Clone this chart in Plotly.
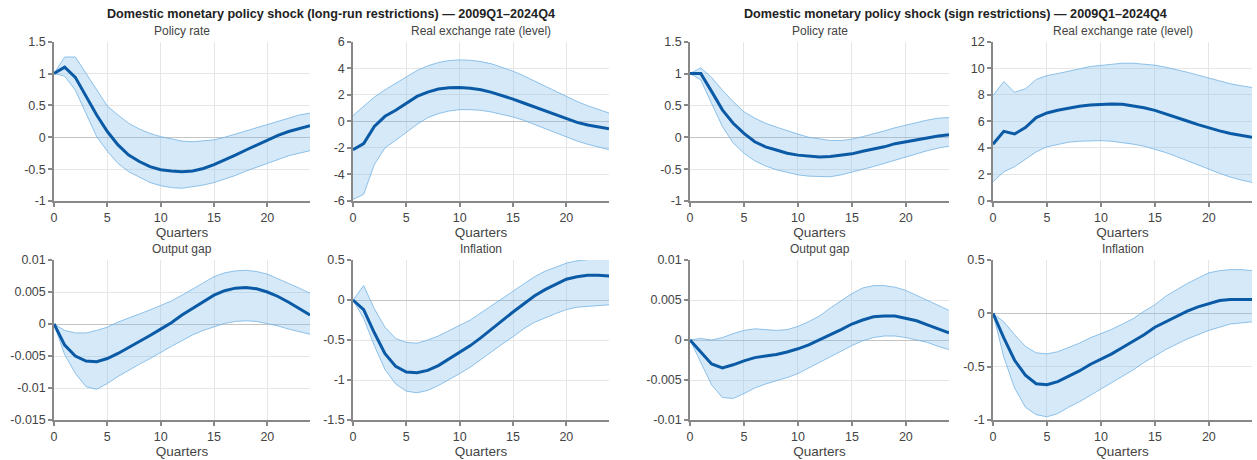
import plotly.graph_objects as go

quarters = list(range(25))

# ---- Long-run restrictions ----
lr_policy_mean = [1.0, 1.1, 0.94, 0.64, 0.35, 0.09, -0.12, -0.28, -0.38, -0.46, -0.51, -0.53, -0.54, -0.53, -0.49, -0.43, -0.36, -0.28, -0.2, -0.12, -0.04, 0.03, 0.09, 0.14, 0.18]
lr_policy_hi = [1.0, 1.26, 1.26, 1.0, 0.74, 0.49, 0.35, 0.22, 0.13, 0.06, 0.01, -0.03, -0.06, -0.07, -0.06, -0.04, 0.0, 0.05, 0.1, 0.16, 0.21, 0.26, 0.31, 0.35, 0.38]
lr_policy_lo = [1.0, 0.96, 0.74, 0.38, 0.01, -0.22, -0.41, -0.54, -0.63, -0.71, -0.76, -0.79, -0.8, -0.78, -0.75, -0.71, -0.66, -0.6, -0.53, -0.47, -0.41, -0.35, -0.29, -0.25, -0.21]

lr_rer_mean = [-2.13, -1.68, -0.38, 0.38, 0.83, 1.38, 1.88, 2.2, 2.43, 2.53, 2.55, 2.5, 2.38, 2.18, 1.95, 1.68, 1.38, 1.08, 0.78, 0.48, 0.2, -0.08, -0.28, -0.43, -0.55]
lr_rer_hi = [0.43, 1.13, 1.83, 2.38, 2.88, 3.38, 3.83, 4.18, 4.43, 4.58, 4.63, 4.6, 4.5, 4.33, 4.08, 3.78, 3.43, 3.05, 2.65, 2.25, 1.85, 1.5, 1.18, 0.88, 0.63]
lr_rer_lo = [-5.88, -5.5, -3.25, -2.0, -1.43, -0.8, -0.23, 0.28, 0.58, 0.78, 0.88, 0.88, 0.83, 0.7, 0.53, 0.33, 0.08, -0.23, -0.55, -0.88, -1.18, -1.48, -1.73, -1.95, -2.13]

lr_gap_mean = [0.0, -0.0033, -0.005, -0.0058, -0.0059, -0.0054, -0.0046, -0.0037, -0.0028, -0.0018, -0.0008, 0.0002, 0.0014, 0.0024, 0.0035, 0.0045, 0.0052, 0.0056, 0.0057, 0.0055, 0.005, 0.0043, 0.0034, 0.0024, 0.0014]
lr_gap_hi = [0.0, -0.001, -0.0014, -0.0014, -0.001, -0.0005, 0.0003, 0.0009, 0.0015, 0.0022, 0.0029, 0.0036, 0.0045, 0.0055, 0.0065, 0.0074, 0.008, 0.0083, 0.0084, 0.0082, 0.0078, 0.0071, 0.0064, 0.0056, 0.0048]
lr_gap_lo = [0.0, -0.0048, -0.0077, -0.0098, -0.0102, -0.0093, -0.0082, -0.0072, -0.0063, -0.0054, -0.0044, -0.0035, -0.0026, -0.0017, -0.001, -0.0004, 0.0001, 0.0004, 0.0005, 0.0004, 0.0001, -0.0003, -0.0008, -0.0012, -0.0016]

lr_inf_mean = [0.0, -0.12, -0.41, -0.67, -0.83, -0.9, -0.91, -0.88, -0.82, -0.74, -0.66, -0.57, -0.47, -0.36, -0.26, -0.15, -0.05, 0.05, 0.13, 0.2, 0.26, 0.29, 0.31, 0.31, 0.3]
lr_inf_hi = [0.0, 0.18, -0.11, -0.34, -0.48, -0.53, -0.54, -0.5, -0.45, -0.38, -0.32, -0.25, -0.16, -0.07, 0.02, 0.12, 0.2, 0.29, 0.36, 0.41, 0.46, 0.49, 0.51, 0.52, 0.52]
lr_inf_lo = [0.0, -0.23, -0.57, -0.87, -1.05, -1.14, -1.16, -1.13, -1.07, -1.0, -0.92, -0.84, -0.74, -0.65, -0.55, -0.46, -0.36, -0.28, -0.22, -0.17, -0.12, -0.09, -0.08, -0.07, -0.06]

# ---- Sign restrictions ----
sr_policy_mean = [1.0, 1.0, 0.72, 0.43, 0.22, 0.06, -0.07, -0.15, -0.2, -0.25, -0.28, -0.3, -0.31, -0.3, -0.28, -0.26, -0.22, -0.19, -0.15, -0.1, -0.07, -0.03, 0.0, 0.02, 0.04]
sr_policy_hi = [1.0, 1.09, 0.94, 0.74, 0.56, 0.4, 0.3, 0.22, 0.16, 0.1, 0.05, 0.0, -0.03, -0.05, -0.05, -0.03, 0.01, 0.05, 0.1, 0.15, 0.19, 0.24, 0.27, 0.3, 0.31]
sr_policy_lo = [1.0, 0.9, 0.53, 0.17, -0.09, -0.25, -0.37, -0.45, -0.51, -0.55, -0.59, -0.61, -0.62, -0.62, -0.59, -0.55, -0.51, -0.46, -0.41, -0.36, -0.3, -0.25, -0.21, -0.17, -0.14]

sr_rer_mean = [4.28, 5.25, 5.05, 5.53, 6.28, 6.63, 6.83, 7.0, 7.13, 7.23, 7.28, 7.3, 7.28, 7.18, 7.03, 6.83, 6.58, 6.3, 6.03, 5.75, 5.5, 5.28, 5.08, 4.93, 4.8]
sr_rer_hi = [7.95, 9.0, 8.2, 8.45, 9.15, 9.45, 9.6, 9.75, 9.95, 10.13, 10.23, 10.33, 10.38, 10.38, 10.33, 10.23, 10.08, 9.9, 9.7, 9.48, 9.25, 9.03, 8.83, 8.68, 8.55]
sr_rer_lo = [1.45, 2.2, 2.58, 3.13, 3.7, 4.08, 4.28, 4.43, 4.5, 4.55, 4.55, 4.5, 4.4, 4.28, 4.13, 3.9, 3.65, 3.35, 3.05, 2.73, 2.4, 2.08, 1.8, 1.58, 1.4]

sr_gap_mean = [0.0, -0.0015, -0.003, -0.0035, -0.0031, -0.0026, -0.0022, -0.002, -0.0018, -0.0015, -0.0011, -0.0006, 0.0, 0.0006, 0.0013, 0.002, 0.0025, 0.0029, 0.003, 0.003, 0.0027, 0.0024, 0.0019, 0.0014, 0.0009]
sr_gap_hi = [0.0, 0.0002, 0.0, 0.0003, 0.0008, 0.0012, 0.0014, 0.0013, 0.0012, 0.0013, 0.0017, 0.0023, 0.003, 0.004, 0.0049, 0.0058, 0.0065, 0.0068, 0.0068, 0.0066, 0.0062, 0.0056, 0.005, 0.0044, 0.0037]
sr_gap_lo = [0.0, -0.0029, -0.0056, -0.0072, -0.0073, -0.0067, -0.006, -0.0055, -0.0051, -0.0047, -0.0042, -0.0035, -0.0028, -0.0021, -0.0013, -0.0007, -0.0001, 0.0003, 0.0005, 0.0005, 0.0003, 0.0, -0.0003, -0.0008, -0.0012]

sr_inf_mean = [0.0, -0.23, -0.44, -0.58, -0.66, -0.67, -0.64, -0.59, -0.54, -0.48, -0.43, -0.38, -0.32, -0.26, -0.2, -0.13, -0.08, -0.03, 0.02, 0.06, 0.09, 0.12, 0.13, 0.13, 0.13]
sr_inf_hi = [0.0, -0.08, -0.2, -0.31, -0.37, -0.38, -0.36, -0.32, -0.28, -0.23, -0.19, -0.15, -0.1, -0.05, 0.02, 0.08, 0.16, 0.22, 0.28, 0.33, 0.38, 0.4, 0.41, 0.41, 0.4]
sr_inf_lo = [0.0, -0.41, -0.7, -0.88, -0.95, -0.97, -0.94, -0.88, -0.83, -0.77, -0.71, -0.65, -0.59, -0.53, -0.46, -0.4, -0.34, -0.29, -0.24, -0.2, -0.16, -0.13, -0.1, -0.09, -0.08]

# ---- Titles and ticks ----
group_titles = ["Domestic monetary policy shock (long-run restrictions) — 2009Q1–2024Q4",
                "Domestic monetary policy shock (sign restrictions) — 2009Q1–2024Q4"]
panel_titles = ["Policy rate", "Real exchange rate (level)", "Output gap", "Inflation"]
x_title = "Quarters"
x_ticks = [0, 5, 10, 15, 20]

yt_policy = [-1, -0.5, 0, 0.5, 1, 1.5]
yt_policy_txt = ["-1", "-0.5", "0", "0.5", "1", "1.5"]
yt_lr_rer = [-6, -4, -2, 0, 2, 4, 6]
yt_lr_rer_txt = ["-6", "-4", "-2", "0", "2", "4", "6"]
yt_lr_gap = [-0.015, -0.01, -0.005, 0, 0.005, 0.01]
yt_lr_gap_txt = ["-0.015", "-0.01", "-0.005", "0", "0.005", "0.01"]
yt_lr_inf = [-1.5, -1, -0.5, 0, 0.5]
yt_lr_inf_txt = ["-1.5", "-1", "-0.5", "0", "0.5"]
yt_sr_rer = [0, 2, 4, 6, 8, 10, 12]
yt_sr_rer_txt = ["0", "2", "4", "6", "8", "10", "12"]
yt_sr_gap = [-0.01, -0.005, 0, 0.005, 0.01]
yt_sr_gap_txt = ["-0.01", "-0.005", "0", "0.005", "0.01"]
yt_sr_inf = [-1, -0.5, 0, 0.5]
yt_sr_inf_txt = ["-1", "-0.5", "0", "0.5"]

W, H = 1257, 460

panels = [
    # (mean, hi, lo, yticks, yticktext, title, col, row)
    (lr_policy_mean, lr_policy_hi, lr_policy_lo, yt_policy, yt_policy_txt, panel_titles[0], 0, 0),
    (lr_rer_mean, lr_rer_hi, lr_rer_lo, yt_lr_rer, yt_lr_rer_txt, panel_titles[1], 1, 0),
    (lr_gap_mean, lr_gap_hi, lr_gap_lo, yt_lr_gap, yt_lr_gap_txt, panel_titles[2], 0, 1),
    (lr_inf_mean, lr_inf_hi, lr_inf_lo, yt_lr_inf, yt_lr_inf_txt, panel_titles[3], 1, 1),
    (sr_policy_mean, sr_policy_hi, sr_policy_lo, yt_policy, yt_policy_txt, panel_titles[0], 2, 0),
    (sr_rer_mean, sr_rer_hi, sr_rer_lo, yt_sr_rer, yt_sr_rer_txt, panel_titles[1], 3, 0),
    (sr_gap_mean, sr_gap_hi, sr_gap_lo, yt_sr_gap, yt_sr_gap_txt, panel_titles[2], 2, 1),
    (sr_inf_mean, sr_inf_hi, sr_inf_lo, yt_sr_inf, yt_sr_inf_txt, panel_titles[3], 3, 1),
]

col_px = [(54, 310), (353, 609), (690, 949), (993, 1252)]
row_px = [(41.7, 201), (260, 420)]

FONT = "Liberation Sans, Arial, sans-serif"
BAND_FILL = "rgba(124,186,236,0.32)"
BAND_EDGE = "rgba(110,175,225,0.75)"
MEAN_COLOR = "#0b5aa6"
AXIS_COLOR = "#888888"

fig = go.Figure()
layout = dict(
    width=W, height=H,
    margin=dict(l=0, r=0, t=0, b=0, autoexpand=False),
    paper_bgcolor="white", plot_bgcolor="white",
    showlegend=False,
    font=dict(family=FONT, size=12, color="#444"),
)
annotations = []

for i, (mean, hi, lo, yt, ytt, title, col, row) in enumerate(panels):
    n = i + 1
    xa = "x" if n == 1 else f"x{n}"
    ya = "y" if n == 1 else f"y{n}"
    fig.add_trace(go.Scatter(x=quarters, y=hi, mode="lines", xaxis=xa, yaxis=ya,
                             line=dict(color=BAND_EDGE, width=1), hoverinfo="skip"))
    fig.add_trace(go.Scatter(x=quarters, y=lo, mode="lines", xaxis=xa, yaxis=ya,
                             line=dict(color=BAND_EDGE, width=1), fill="tonexty",
                             fillcolor=BAND_FILL, hoverinfo="skip"))
    fig.add_trace(go.Scatter(x=quarters, y=mean, mode="lines", xaxis=xa, yaxis=ya,
                             line=dict(color=MEAN_COLOR, width=3)))
    x0, x1 = col_px[col]
    y0, y1 = row_px[row]
    xkey = "xaxis" if n == 1 else f"xaxis{n}"
    ykey = "yaxis" if n == 1 else f"yaxis{n}"
    layout[xkey] = dict(
        domain=[x0 / W, x1 / W], anchor=ya, range=[0, 24], automargin=False,
        tickvals=x_ticks, ticks="outside", ticklen=4, tickcolor=AXIS_COLOR, tickwidth=1.5,
        showline=True, linecolor=AXIS_COLOR, linewidth=1.5,
        showgrid=True, gridcolor="#e6e6e6", gridwidth=1, zeroline=False,
        tickfont=dict(size=12.5, color="#444"),
        title=dict(text=x_title, font=dict(size=13.5, color="#444"), standoff=0),
    )
    layout[ykey] = dict(
        domain=[1 - y1 / H, 1 - y0 / H], anchor=xa, range=[yt[0], yt[-1]], automargin=False,
        tickvals=yt, ticktext=ytt, ticks="outside", ticklen=4, tickcolor=AXIS_COLOR, tickwidth=1.5,
        showline=True, linecolor=AXIS_COLOR, linewidth=1.5,
        showgrid=True, gridcolor="#e6e6e6", gridwidth=1,
        zeroline=True, zerolinecolor="#c4c4c4", zerolinewidth=1,
        tickfont=dict(size=12.5, color="#444"),
    )
    annotations.append(dict(
        text=title, x=(x0 + x1) / 2 / W, y=1 - (y0 - 2) / H,
        xref="paper", yref="paper", xanchor="center", yanchor="bottom",
        showarrow=False, font=dict(size=12, color="#444", family=FONT),
    ))

annotations.append(dict(text=f"<b>{group_titles[0]}</b>", x=331 / W, y=1 - 14 / H,
                        xref="paper", yref="paper", xanchor="center", yanchor="middle",
                        showarrow=False, font=dict(size=12.6, color="#222", family=FONT)))
annotations.append(dict(text=f"<b>{group_titles[1]}</b>", x=955 / W, y=1 - 14 / H,
                        xref="paper", yref="paper", xanchor="center", yanchor="middle",
                        showarrow=False, font=dict(size=12.6, color="#222", family=FONT)))
layout["annotations"] = annotations
fig.update_layout(**layout)
fig.write_html("out.html")
